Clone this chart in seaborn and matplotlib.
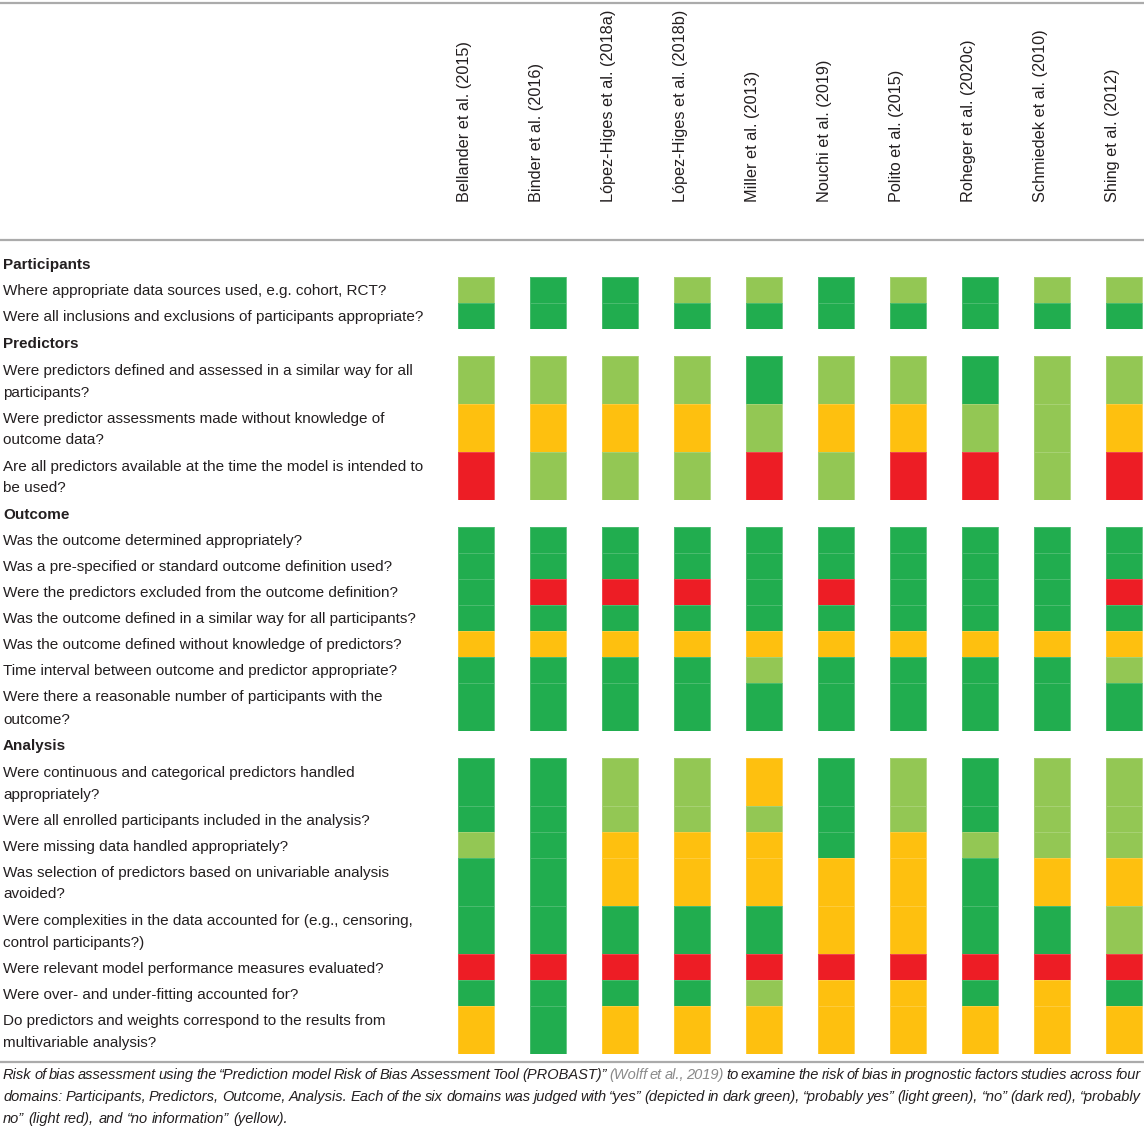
import numpy as np
import matplotlib
matplotlib.use("Agg")
import matplotlib.pyplot as plt
from matplotlib.colors import ListedColormap
import seaborn as sns

# ---------------- data ----------------
studies = ["Bellander et al. (2015)", "Binder et al. (2016)", "López-Higes et al. (2018a)",
           "López-Higes et al. (2018b)", "Miller et al. (2013)", "Nouchi et al. (2019)",
           "Polito et al. (2015)", "Roheger et al. (2020c)", "Schmiedek et al. (2010)",
           "Shing et al. (2012)"]

domains = ["Participants", "Predictors", "Outcome", "Analysis"]

participants_q = ["Where appropriate data sources used, e.g. cohort, RCT?",
                  "Were all inclusions and exclusions of participants appropriate?"]
participants_r = [["PY", "Y", "Y", "PY", "PY", "Y", "PY", "Y", "PY", "PY"],
                  ["Y", "Y", "Y", "Y", "Y", "Y", "Y", "Y", "Y", "Y"]]

predictors_q = ["Were predictors defined and assessed in a similar way for all\nparticipants?",
                "Were predictor assessments made without knowledge of\noutcome data?",
                "Are all predictors available at the time the model is intended to\nbe used?"]
predictors_r = [["PY", "PY", "PY", "PY", "Y", "PY", "PY", "Y", "PY", "PY"],
                ["NI", "NI", "NI", "NI", "PY", "NI", "NI", "PY", "PY", "NI"],
                ["N", "PY", "PY", "PY", "N", "PY", "N", "N", "PY", "N"]]

outcome_q = ["Was the outcome determined appropriately?",
             "Was a pre-specified or standard outcome definition used?",
             "Were the predictors excluded from the outcome definition?",
             "Was the outcome defined in a similar way for all participants?",
             "Was the outcome defined without knowledge of predictors?",
             "Time interval between outcome and predictor appropriate?",
             "Were there a reasonable number of participants with the\noutcome?"]
outcome_r = [["Y", "Y", "Y", "Y", "Y", "Y", "Y", "Y", "Y", "Y"],
             ["Y", "Y", "Y", "Y", "Y", "Y", "Y", "Y", "Y", "Y"],
             ["Y", "N", "N", "N", "Y", "N", "Y", "Y", "Y", "N"],
             ["Y", "Y", "Y", "Y", "Y", "Y", "Y", "Y", "Y", "Y"],
             ["NI", "NI", "NI", "NI", "NI", "NI", "NI", "NI", "NI", "NI"],
             ["Y", "Y", "Y", "Y", "PY", "Y", "Y", "Y", "Y", "PY"],
             ["Y", "Y", "Y", "Y", "Y", "Y", "Y", "Y", "Y", "Y"]]

analysis_q = ["Were continuous and categorical predictors handled\nappropriately?",
              "Were all enrolled participants included in the analysis?",
              "Were missing data handled appropriately?",
              "Was selection of predictors based on univariable analysis\navoided?",
              "Were complexities in the data accounted for (e.g., censoring,\ncontrol participants?)",
              "Were relevant model performance measures evaluated?",
              "Were over- and under-fitting accounted for?",
              "Do predictors and weights correspond to the results from\nmultivariable analysis?"]
analysis_r = [["Y", "Y", "PY", "PY", "NI", "Y", "PY", "Y", "PY", "PY"],
              ["Y", "Y", "PY", "PY", "PY", "Y", "PY", "Y", "PY", "PY"],
              ["PY", "Y", "NI", "NI", "NI", "Y", "NI", "PY", "PY", "PY"],
              ["Y", "Y", "NI", "NI", "NI", "NI", "NI", "Y", "NI", "NI"],
              ["Y", "Y", "Y", "Y", "Y", "NI", "NI", "Y", "Y", "PY"],
              ["N", "N", "N", "N", "N", "N", "N", "N", "N", "N"],
              ["Y", "Y", "Y", "Y", "PY", "NI", "NI", "Y", "NI", "Y"],
              ["NI", "Y", "NI", "NI", "NI", "NI", "NI", "NI", "NI", "NI"]]

rating_codes = ["Y", "PY", "NI", "N"]
rating_colors = ["#21ad4f", "#93c754", "#fec00f", "#ed1d25"]

caption_lines = [
    [("Risk of bias assessment using the “Prediction model Risk of Bias Assessment Tool (PROBAST)”", "#231f20"),
     ("(Wolff et al., 2019)", "#8a8a8a"),
     ("to examine the risk of bias in prognostic factors studies across four", "#231f20")],
    [("domains: Participants, Predictors, Outcome, Analysis. Each of the six domains was judged with “yes” (depicted in dark green), “probably yes” (light green), “no” (dark red), “probably", "#231f20")],
    [("no” (light red), and “no information” (yellow).", "#231f20")],
]

# ---------------- style / layout ----------------
sns.set_theme(style="white")
plt.rcParams["font.family"] = ["Liberation Sans", "DejaVu Sans"]

W, H = 1144, 1130
FS = 11
FS_HEAD = 11.7
TXT = "#231f20"
RULE = "#ababab"
x_left = 458          # left edge of first rating column (px)
pitch = 72            # px between column starts
line_h = 22
head_h = 27

fig = plt.figure(figsize=(W / 100, H / 100), dpi=100)
ax0 = fig.add_axes([0, 0, 1, 1])
ax0.set_xlim(0, W)
ax0.set_ylim(H, 0)
ax0.set_axis_off()

cmap = ListedColormap(rating_colors)
code_idx = {c: i for i, c in enumerate(rating_codes)}

# column headers
for k, s in enumerate(studies):
    ax0.text(x_left + pitch * k - 1, 202, s, rotation=90, ha="left", va="bottom",
             fontsize=FS_HEAD, color=TXT)

sections = [(domains[0], participants_q, participants_r),
            (domains[1], predictors_q, predictors_r),
            (domains[2], outcome_q, outcome_r),
            (domains[3], analysis_q, analysis_r)]

top_rule = 3
head_rule = 240
ax0.plot([0, W], [top_rule, top_rule], color=RULE, lw=1.6, solid_capstyle="butt")
ax0.plot([0, W], [head_rule, head_rule], color=RULE, lw=1.6, solid_capstyle="butt")

n = len(studies)
y = head_rule + 10
for dom, qs, rs in sections:
    ax0.text(3, y + head_h / 2 + 5.5, dom, fontsize=FS, fontweight="bold", color=TXT,
             ha="left", va="baseline")
    y += head_h
    for q, r in zip(qs, rs):
        lines = q.split("\n")
        h = 4 + line_h * len(lines)
        for i, ln in enumerate(lines):
            ax0.text(3, y + 13 + line_h * i + 5.5, ln, fontsize=FS, color=TXT,
                     ha="left", va="baseline")
        vals = np.full((1, 2 * n), np.nan)
        vals[0, ::2] = [code_idx[c] for c in r]
        ax = fig.add_axes([x_left / W, 1 - (y + h) / H, 2 * n * (pitch / 2) / W, h / H])
        sns.heatmap(vals, ax=ax, cmap=cmap, vmin=-0.5, vmax=3.5, cbar=False,
                    xticklabels=False, yticklabels=False,
                    linewidths=0.6, linecolor=(1, 1, 1, 0.18))
        ax.set_facecolor("none")
        ax.set_axis_off()
        y += h

bottom_rule = y + 8
ax0.plot([0, W], [bottom_rule, bottom_rule], color=RULE, lw=1.6, solid_capstyle="butt")

# ---------------- caption (justified) ----------------
renderer = fig.canvas.get_renderer()
cap_font = dict(family=["Liberation Sans Narrow", "Liberation Sans", "DejaVu Sans"],
                style="italic", fontsize=10.5)
cap_left, cap_right = 3, 1141
cap_y0 = bottom_rule + 17
for li, segs in enumerate(caption_lines):
    words = []
    for txt, col in segs:
        for w in txt.split(" "):
            words.append((w, col))
    arts = []
    widths = []
    for w, col in words:
        t = ax0.text(0, cap_y0 + 22 * li, w, color=col, ha="left", va="baseline", **cap_font)
        widths.append(t.get_window_extent(renderer).width)
        arts.append(t)
    t1 = ax0.text(0, 0, "a a", **cap_font)
    t2 = ax0.text(0, 0, "aa", **cap_font)
    sp_w = t1.get_window_extent(renderer).width - t2.get_window_extent(renderer).width
    t1.remove()
    t2.remove()
    justify = li < len(caption_lines) - 1
    if justify and len(words) > 1:
        gap = (cap_right - cap_left - sum(widths)) / (len(words) - 1)
    else:
        gap = sp_w
    x = cap_left
    for t, wdt in zip(arts, widths):
        t.set_x(x)
        x += wdt + gap

fig.savefig("out.png", dpi=100, facecolor="white")
